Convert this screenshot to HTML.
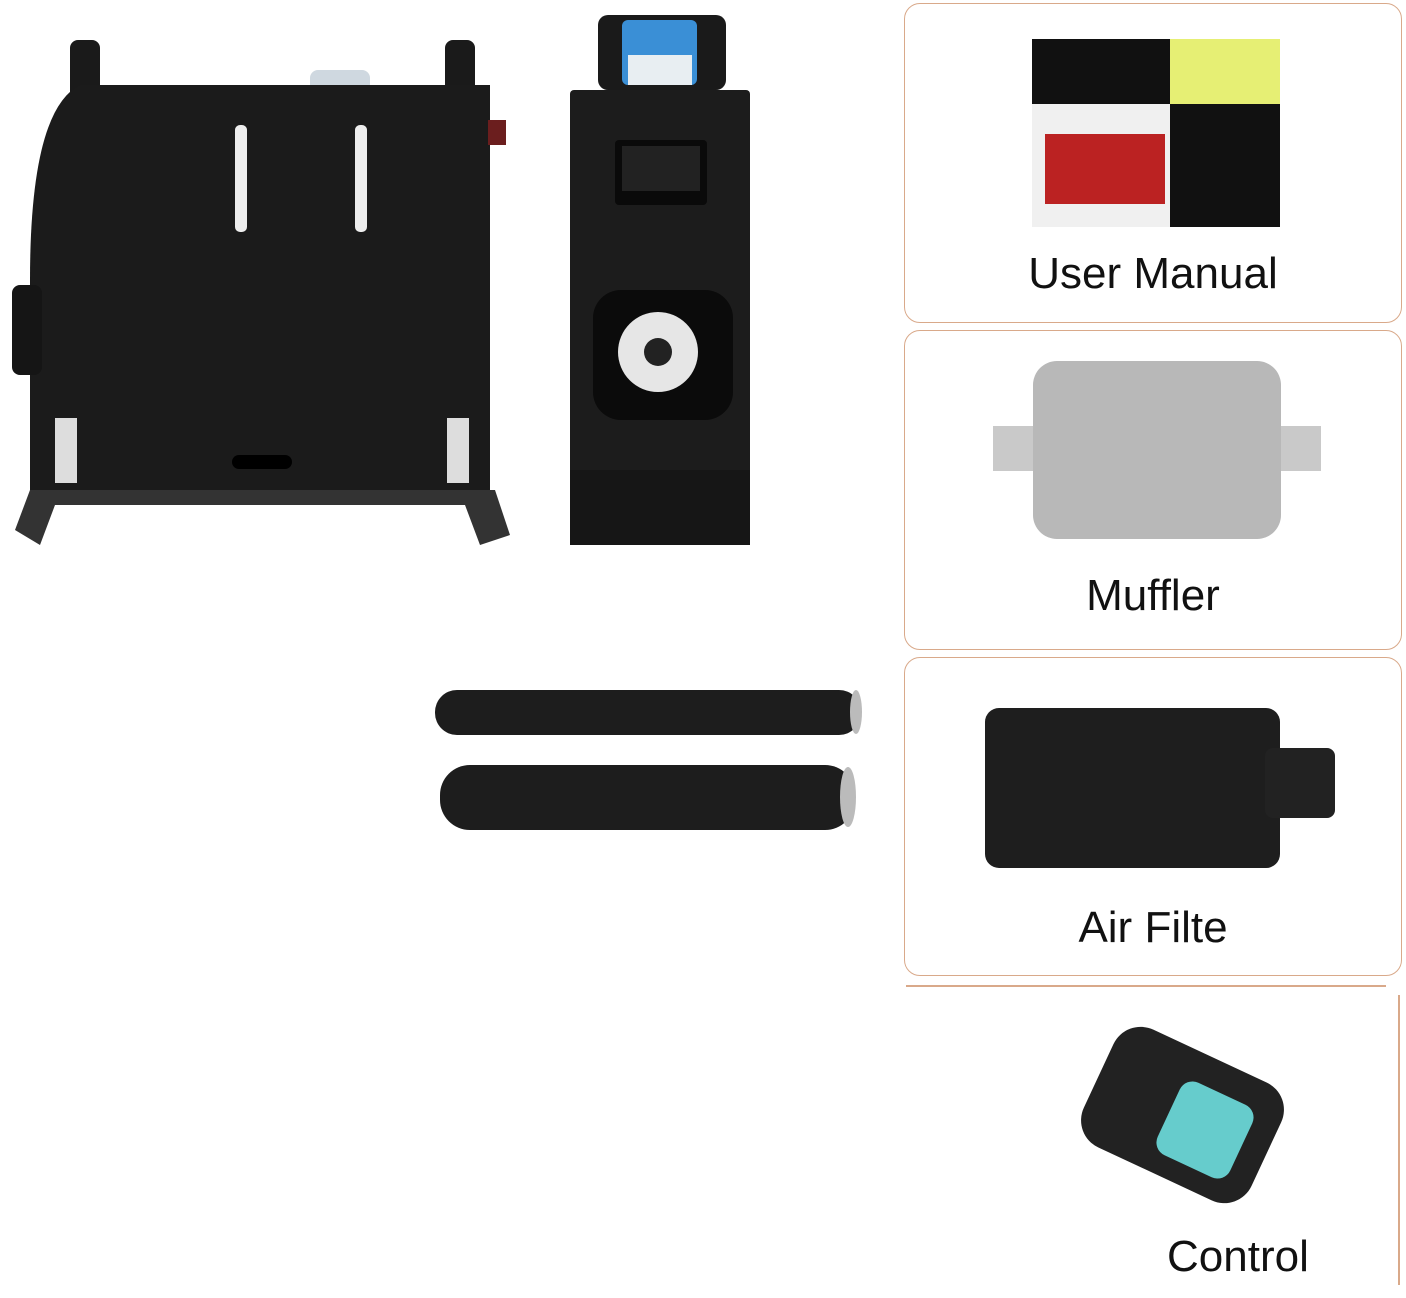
<!DOCTYPE html>
<html><head><meta charset="utf-8"><style>
body{margin:0;width:1406px;height:1298px;background:#fff;position:relative;overflow:hidden;font-family:"Liberation Sans",sans-serif}
.box{position:absolute;border:1.5px solid #d9a98a;border-radius:16px;background:#fff}
.lbl{position:absolute;width:100%;text-align:center;font-size:44px;color:#111}
.a{position:absolute}
</style></head><body>
<svg class="a" style="left:0;top:0" width="900" height="900">
<!-- main heater -->
<rect x="70" y="40" width="30" height="60" rx="8" fill="#1a1a1a"/>
<rect x="445" y="40" width="30" height="60" rx="8" fill="#1a1a1a"/>
<rect x="310" y="70" width="60" height="22" rx="8" fill="#cfd8e0"/>
<path d="M80 85 H490 V490 H30 V280 Q30 110 80 85Z" fill="#1b1b1b"/>
<rect x="12" y="285" width="30" height="90" rx="8" fill="#151515"/>
<rect x="235" y="125" width="12" height="107" rx="5" fill="#eee"/>
<rect x="355" y="125" width="12" height="107" rx="5" fill="#eee"/>
<rect x="488" y="120" width="18" height="25" fill="#6b1e1e"/>
<rect x="232" y="455" width="60" height="14" rx="7" fill="#000"/>
<rect x="55" y="418" width="22" height="65" fill="#ddd"/>
<rect x="447" y="418" width="22" height="65" fill="#ddd"/>
<path d="M30 490 L15 530 L40 545 L55 505 H465 L480 545 L510 535 L495 490Z" fill="#333"/>
<!-- second unit -->
<rect x="598" y="15" width="128" height="75" rx="10" fill="#1a1a1a"/>
<rect x="622" y="20" width="75" height="65" rx="6" fill="#3a8fd6"/>
<rect x="628" y="55" width="64" height="30" fill="#e8eef2"/>
<rect x="570" y="90" width="180" height="455" rx="4" fill="#1c1c1c"/>
<rect x="615" y="140" width="92" height="65" rx="4" fill="#0a0a0a"/>
<rect x="622" y="146" width="78" height="45" fill="#222"/>
<rect x="593" y="290" width="140" height="130" rx="28" fill="#0b0b0b"/>
<circle cx="658" cy="352" r="40" fill="#e6e6e6"/>
<circle cx="658" cy="352" r="14" fill="#222"/>
<rect x="570" y="470" width="180" height="75" fill="#161616"/>
<!-- pipes -->
<rect x="435" y="690" width="426" height="45" rx="22" fill="#1d1d1d"/>
<ellipse cx="856" cy="712" rx="6" ry="22" fill="#bbb"/>
<rect x="440" y="765" width="415" height="65" rx="30" fill="#1d1d1d"/>
<ellipse cx="848" cy="797" rx="8" ry="30" fill="#bbb"/>
</svg>

<div class="box" style="left:904px;top:3px;width:496px;height:318px">
 <div class="a" style="left:127px;top:35px;width:248px;height:188px;background:#111"></div>
 <div class="a" style="left:265px;top:35px;width:110px;height:65px;background:#e6ef74"></div>
 <div class="a" style="left:127px;top:100px;width:138px;height:123px;background:#f0f0f0"></div>
 <div class="a" style="left:140px;top:130px;width:120px;height:70px;background:#b22"></div>
 <div class="lbl" style="top:245px">User Manual</div>
</div>
<div class="box" style="left:904px;top:330px;width:496px;height:318px">
 <div class="a" style="left:88px;top:95px;width:328px;height:45px;background:#c9c9c9"></div>
 <div class="a" style="left:128px;top:30px;width:248px;height:178px;background:#b8b8b8;border-radius:24px"></div>
 <div class="lbl" style="top:240px">Muffler</div>
</div>
<div class="box" style="left:904px;top:657px;width:496px;height:317px">
 <div class="a" style="left:80px;top:50px;width:295px;height:160px;background:#1e1e1e;border-radius:14px"></div>
 <div class="a" style="left:360px;top:90px;width:70px;height:70px;background:#222;border-radius:8px"></div>
 <div class="lbl" style="top:245px">Air Filte</div>
</div>
<div class="a" style="left:906px;top:985px;width:480px;height:2px;background:#d9a98a"></div>
<div class="a" style="left:1398px;top:995px;width:2px;height:290px;background:#d9a98a"></div>
<div class="a" style="left:1090px;top:1050px;width:185px;height:130px;background:#222;border-radius:30px;transform:rotate(25deg)"></div>
<div class="a" style="left:1165px;top:1090px;width:80px;height:80px;background:#6cc;border-radius:14px;transform:rotate(25deg)"></div>
<div class="a" style="left:1167px;top:1232px;font-size:44px;color:#111">Control</div>
</body></html>
